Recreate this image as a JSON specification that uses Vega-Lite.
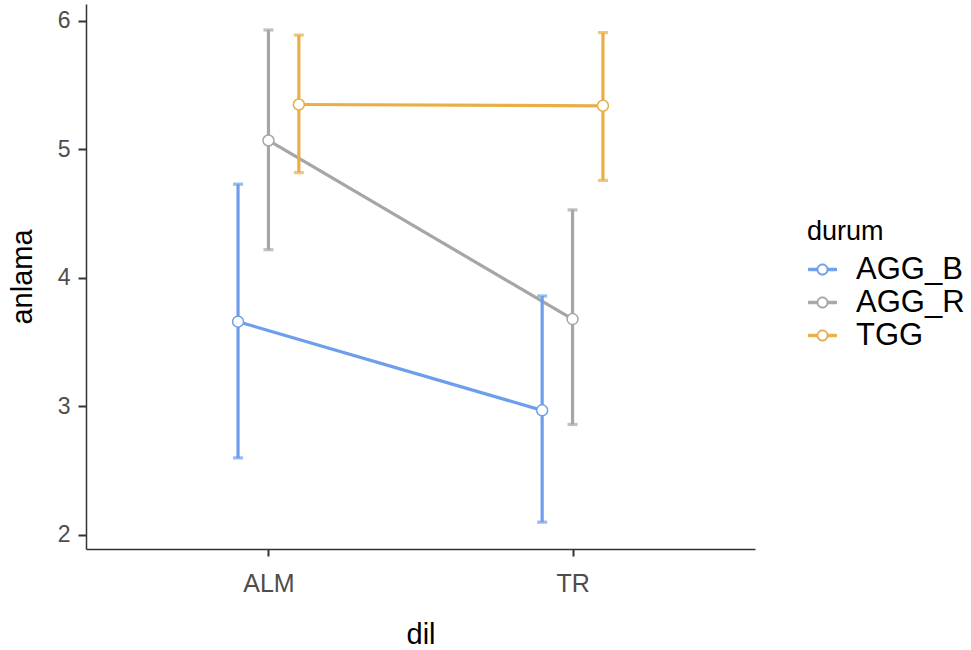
{
  "$schema": "https://vega.github.io/schema/vega-lite/v6.json",
  "width": 669,
  "height": 545,
  "autosize": {"type": "none"},
  "padding": {"left": 86, "top": 4, "right": 216, "bottom": 101},
  "background": "white",
  "config": {"font": "Liberation Sans", "view": {"stroke": null}},
  "data": {"values": [
    {"dil": "ALM", "durum": "AGG_B", "mean": 3.66, "lo": 2.60, "hi": 4.73},
    {"dil": "ALM", "durum": "AGG_R", "mean": 5.07, "lo": 4.22, "hi": 5.93},
    {"dil": "ALM", "durum": "TGG", "mean": 5.35, "lo": 4.82, "hi": 5.89},
    {"dil": "TR", "durum": "AGG_B", "mean": 2.97, "lo": 2.10, "hi": 3.86},
    {"dil": "TR", "durum": "AGG_R", "mean": 3.68, "lo": 2.86, "hi": 4.53},
    {"dil": "TR", "durum": "TGG", "mean": 5.34, "lo": 4.76, "hi": 5.91}
  ]},
  "encoding": {
    "x": {
      "field": "dil", "type": "nominal",
      "scale": {"type": "point", "padding": 0.6},
      "axis": {
        "title": "dil", "titleFontSize": 29, "titleFontWeight": "normal", "titleColor": "black", "titlePadding": 24,
        "labelFontSize": 25, "labelColor": "#4D4D4D", "labelAngle": 0, "labelPadding": 15,
        "domainColor": "#333333", "domainWidth": 1.5, "tickColor": "#333333", "tickWidth": 2, "tickSize": 7,
        "grid": false
      }
    },
    "xOffset": {
      "field": "durum", "type": "nominal",
      "scale": {"type": "point", "domain": ["AGG_B", "AGG_R", "TGG"], "range": [-30.4, 30.4], "padding": 0}
    }
  },
  "layer": [
    {
      "mark": {"type": "line", "strokeWidth": 3.2},
      "encoding": {
        "y": {
          "field": "mean", "type": "quantitative", "title": "anlama",
          "scale": {"domain": [1.891, 6.132], "nice": false, "zero": false},
          "axis": {
            "values": [2, 3, 4, 5, 6], "format": "d", "grid": false,
            "titleFontSize": 29, "titleFontWeight": "normal", "titleColor": "black", "titlePadding": 20,
            "labelFontSize": 23, "labelColor": "#4D4D4D", "labelPadding": 8,
            "domainColor": "#333333", "domainWidth": 1.5, "tickColor": "#333333", "tickWidth": 2, "tickSize": 8
          }
        },
        "stroke": {
          "field": "durum", "type": "nominal",
          "scale": {"domain": ["AGG_B", "AGG_R", "TGG"], "range": ["#6D9EEB", "#A6A6A6", "#E9AF47"]},
          "legend": {
            "title": "durum", "titleFontSize": 27, "titleFontWeight": "normal", "titleColor": "black", "titlePadding": 8,
            "labelFontSize": 31, "labelColor": "black", "labelOffset": 18,
            "symbolType": "M-1,-0.09L-0.4,-0.09L-0.4,0.09L-1,0.09ZM0.4,-0.09L1,-0.09L1,0.09L0.4,0.09ZM0.4,0A0.4,0.4,0,1,1,-0.4,0A0.4,0.4,0,1,1,0.4,0ZM0.33,0A0.33,0.33,0,1,0,-0.33,0A0.33,0.33,0,1,0,0.33,0Z",
            "symbolSize": 784, "symbolStrokeWidth": 1,
            "rowPadding": 1, "padding": 0,
            "orient": "none", "legendX": 721, "legendY": 215
          }
        }
      }
    },
    {
      "mark": {"type": "rule", "strokeWidth": 3.2},
      "encoding": {
        "y": {"field": "lo", "type": "quantitative", "title": "anlama"},
        "y2": {"field": "hi"},
        "stroke": {"field": "durum", "type": "nominal", "legend": null}
      }
    },
    {
      "mark": {"type": "tick", "size": 10, "thickness": 3.2, "orient": "horizontal"},
      "encoding": {
        "y": {"field": "lo", "type": "quantitative", "title": "anlama"},
        "fill": {"field": "durum", "type": "nominal", "legend": null,
          "scale": {"domain": ["AGG_B", "AGG_R", "TGG"], "range": ["#6D9EEB", "#A6A6A6", "#E9AF47"]}}
      }
    },
    {
      "mark": {"type": "tick", "size": 10, "thickness": 3.2, "orient": "horizontal"},
      "encoding": {
        "y": {"field": "hi", "type": "quantitative", "title": "anlama"},
        "fill": {"field": "durum", "type": "nominal", "legend": null}
      }
    },
    {
      "mark": {"type": "point", "filled": false, "fill": "white", "fillOpacity": 1, "opacity": 1, "size": 120, "strokeWidth": 1.5},
      "encoding": {
        "y": {"field": "mean", "type": "quantitative", "title": "anlama"},
        "stroke": {"field": "durum", "type": "nominal", "legend": null}
      }
    }
  ]
}
